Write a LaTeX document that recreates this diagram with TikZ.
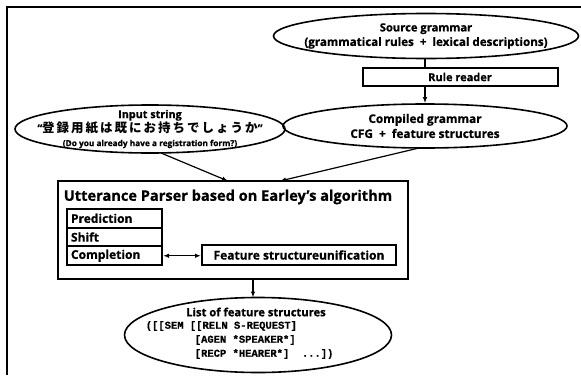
\documentclass[tikz,border=0pt]{standalone}
\usepackage{fontspec}
\setmainfont{Open Sans}[BoldFeatures={FakeBold=0.8}]
\newfontfamily\jpfont{Noto Sans CJK JP}[LetterSpace=16]
\setmonofont{Liberation Mono}[BoldFeatures={FakeBold=0.6}]
\usetikzlibrary{shapes.geometric,arrows.meta}
\begin{document}
\begin{tikzpicture}[x=1pt,y=-1pt,
  line width=1.6pt,
  ell/.style={draw,ellipse,inner sep=0pt},
  etext/.style={font=\bfseries\fontsize{11.2}{14.5}\selectfont, align=center},
  bx/.style={draw,rectangle,line width=2pt,inner sep=0pt,font=\bfseries\fontsize{12}{14}\selectfont},
  lbox/.style={bx,anchor=north west,text width=87pt,inner xsep=4pt,minimum height=18.7pt,align=left},
  mono/.style={anchor=west,inner sep=0pt,font=\ttfamily\bfseries\fontsize{10.5}{12}\selectfont},
  link/.style={line width=1.2pt},
  arr/.style={-{Latex[length=6pt,width=4.5pt]},line width=1.2pt},
  darr/.style={{Latex[length=6pt,width=4.5pt]}-{Latex[length=6pt,width=4.5pt]},line width=1.2pt}]
\useasboundingbox (0,0) rectangle (581,375);
\draw[line width=1.8pt] (7,375) -- (7,7) -- (581,7);

% source grammar
\node[ell,minimum width=305pt,minimum height=45pt] (src) at (426,36) {};
\node[etext] (srct) at (src) {Source grammar\\{\fontsize{11.6}{14}\selectfont (grammatical rules \ + \ lexical descriptions)}};

% rule reader
\node[bx,minimum width=195pt,minimum height=18pt,font=\bfseries\fontsize{11}{13}\selectfont] (rr) at (460,77) {Rule reader};

% compiled grammar
\node[ell,minimum width=284pt,minimum height=44pt] (cg) at (425,126) {};
\node[etext,font=\bfseries\fontsize{11.8}{15}\selectfont] (cgt) at (cg) {Compiled grammar\\CFG \ + \ feature structures};

% input string
\node[ell,minimum width=270pt,minimum height=48pt] (in) at (150,129) {};
\node[etext,font=\bfseries\fontsize{10.8}{14}\selectfont] (int) at (150,129)
  {Input string\\“{\jpfont\fontsize{12.5}{14}\selectfont 登録用紙は既にお持ちでしょうか}”\\{\fontsize{8.3}{10}\selectfont (Do you already have a registration form?)}};

% parser box
\node[bx,minimum width=350pt,minimum height=98pt] (parser) at (233,230) {};
\node[anchor=west,inner sep=0pt,font=\bfseries\fontsize{14.6}{16}\selectfont] (ptitle) at (63,197) {Utterance Parser based on Earley’s algorithm};
\node[lbox] (pred) at (66,208) {Prediction};
\node[lbox] (shift) at (66,226.7) {Shift};
\node[lbox] (comp) at (66,245.4) {Completion};
\node[bx,anchor=west,minimum width=194pt,minimum height=20pt] (fsu) at (201,255) {Feature structureunification};
\draw[darr] (comp.east) -- (comp.east -| fsu.west);

% list of feature structures
\node[ell,minimum width=267pt,minimum height=75pt] (lst) at (258,335) {};
\node[etext] (lstt) at (256,312) {List of feature structures};
\node[mono] (l1) at (145,326) {([[SEM [[RELN S-REQUEST]};
\node[mono] (l2) at (194,340) {[AGEN *SPEAKER*]};
\node[mono] (l3) at (194,354) {[RECP *HEARER*]~~...])};

% connector end points
\coordinate (pinA) at (228,181);
\coordinate (pinB) at (280,181);
\coordinate (pout) at (253,279);
\coordinate (lin) at (253,297.5);
\coordinate (inB) at (161,153);
\coordinate (cgB) at (419,148);

% connectors
\draw[link] (src.south -| cg.north) -- (cg.north |- rr.north);
\draw[arr] (rr.south -| cg.north) -- (cg.north);
\draw[arr] (inB) -- (pinA);
\draw[arr] (cgB) -- (pinB);
\draw[arr] (pout) -- (lin);
\end{tikzpicture}
\end{document}
